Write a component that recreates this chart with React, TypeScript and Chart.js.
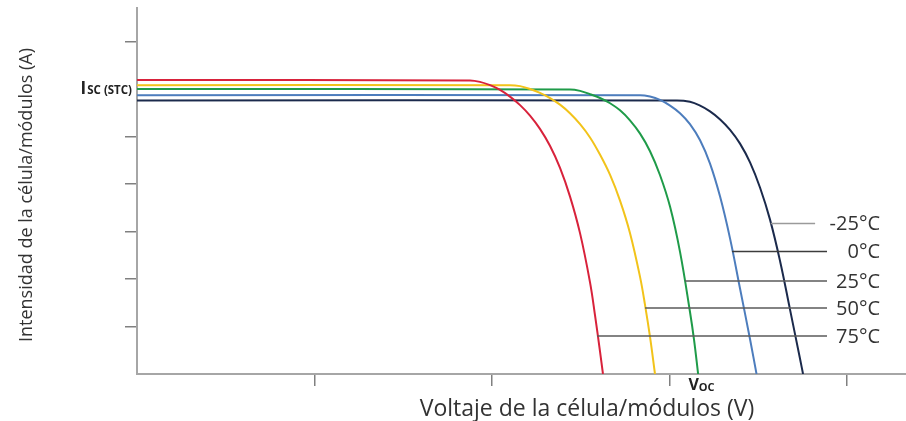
import React, { useEffect, useRef } from "react";
import { Chart, registerables } from "chart.js";

Chart.register(...registerables);

// ---- Data (voltage and current in arbitrary units) ----
const RED_V = [0, 18.76, 19.32, 19.89, 20.45, 21.01, 21.58, 22.14, 22.7, 23.27, 23.83, 24.39, 24.96, 25.52, 25.8, 26.08, 26.25];
const RED_I = [6.19, 6.18, 6.15, 6.08, 5.98, 5.84, 5.66, 5.44, 5.16, 4.8, 4.34, 3.74, 2.96, 1.93, 1.24, 0.48, 0];

const YELLOW_V = [0, 21.01, 21.58, 22.14, 22.7, 23.27, 23.83, 24.39, 24.96, 25.52, 26.08, 26.65, 27.21, 27.77, 28.34, 28.62, 28.9, 29.18];
const YELLOW_I = [6.08, 6.08, 6.06, 6.0, 5.92, 5.81, 5.67, 5.49, 5.26, 4.98, 4.62, 4.19, 3.65, 2.97, 2.04, 1.45, 0.78, 0];

const GREEN_V = [0, 24.39, 24.96, 25.52, 26.08, 26.65, 27.21, 27.77, 28.34, 28.9, 29.46, 30.03, 30.59, 31.15, 31.38, 31.61];
const GREEN_I = [6.0, 5.99, 5.96, 5.89, 5.81, 5.7, 5.55, 5.34, 5.06, 4.69, 4.19, 3.52, 2.57, 1.31, 0.72, 0];

const BLUE_V = [0, 28.34, 28.9, 29.46, 30.03, 30.59, 31.15, 31.72, 32.28, 32.85, 33.41, 33.97, 34.54, 34.9];
const BLUE_I = [5.87, 5.87, 5.84, 5.77, 5.65, 5.49, 5.26, 4.92, 4.43, 3.73, 2.85, 1.8, 0.72, 0];

const NAVY_V = [0, 30.42, 31.15, 31.72, 32.28, 32.85, 33.41, 33.97, 34.54, 35.1, 35.66, 36.23, 36.79, 37.35, 37.52];
const NAVY_I = [5.76, 5.76, 5.73, 5.65, 5.53, 5.36, 5.14, 4.85, 4.45, 3.92, 3.25, 2.37, 1.35, 0.32, 0];

const TEMP_LABELS = ["-25°C", "0°C", "25°C", "50°C", "75°C"];
const LEADER_I = [3.17, 2.58, 1.96, 1.39, 0.8];
const LEADER_START_V = [35.7, 33.52, 30.87, 28.62, 25.92];
const LEADER_END_V = [38.2, 38.87, 38.87, 38.87, 38.87];
const LABEL_RIGHT_V = 41.86;

const SERIES_COLORS = ["#d8223b", "#f2c31a", "#1f9b49", "#4d7dbd", "#1b2a4c"];
const LEADER_COLORS = ["#9a9a9a", "#3c3c3c", "#5a5a5a", "#5a5a5a", "#5a5a5a"];

const X_MIN = 0;
const X_MAX = 43.32;
const X_STEP = 10;
const Y_MIN = 0;
const Y_MAX = 7.705;
const Y_STEP = 1;
const ISC_VALUE = 6;
const VOC_V = 31.8;

const X_TITLE = "Voltaje de la célula/módulos (V)";
const Y_TITLE = "Intensidad de la célula/módulos (A)";

const toPoints = (xs: number[], ys: number[]) => xs.map((x, i) => ({ x, y: ys[i] }));

const FONT = "'Open Sans', 'Noto Sans', sans-serif";

const labelsPlugin = {
  id: "labelsPlugin",
  afterDraw(chart: any) {
    const { ctx, chartArea } = chart;
    const xs = chart.scales.x;
    const ys = chart.scales.y;
    ctx.save();
    ctx.fillStyle = "#333";

    // Temperature labels
    ctx.font = `20px ${FONT}`;
    ctx.textAlign = "right";
    ctx.textBaseline = "middle";
    TEMP_LABELS.forEach((t, i) => {
      ctx.fillText(t, xs.getPixelForValue(LABEL_RIGHT_V), ys.getPixelForValue(LEADER_I[i]) + 1);
    });

    // Isc (STC) label
    const iy = ys.getPixelForValue(ISC_VALUE) + 5;
    const right = chartArea.left - 5;
    ctx.textBaseline = "alphabetic";
    ctx.fillStyle = "#222";
    ctx.font = `bold 11.5px ${FONT}`;
    const sub = "SC (STC)";
    const subW = ctx.measureText(sub).width;
    ctx.textAlign = "right";
    ctx.fillText(sub, right, iy);
    ctx.font = `bold 17px ${FONT}`;
    ctx.fillText("I", right - subW - 1, iy);

    // Voc label
    const vx = xs.getPixelForValue(VOC_V);
    const vy = chartArea.bottom + 16;
    ctx.textAlign = "left";
    ctx.font = `bold 16px ${FONT}`;
    const vW = ctx.measureText("V").width;
    ctx.font = `bold 11px ${FONT}`;
    const ocW = ctx.measureText("OC").width;
    const startX = vx - (vW + ocW) / 2;
    ctx.font = `bold 16px ${FONT}`;
    ctx.fillText("V", startX, vy);
    ctx.font = `bold 11px ${FONT}`;
    ctx.fillText("OC", startX + vW, vy + 1);

    // Axis titles
    ctx.fillStyle = "#333";
    ctx.textAlign = "center";
    ctx.textBaseline = "middle";
    ctx.font = `23px ${FONT}`;
    ctx.fillText(X_TITLE, 587, 409);

    ctx.font = `18px ${FONT}`;
    ctx.save();
    ctx.translate(27, 195);
    ctx.rotate(-Math.PI / 2);
    ctx.fillText(Y_TITLE, 0, 0);
    ctx.restore();

    ctx.restore();
  },
};

export default function App() {
  const ref = useRef<HTMLCanvasElement | null>(null);

  useEffect(() => {
    if (!ref.current) return;
    const curves = [
      toPoints(RED_V, RED_I),
      toPoints(YELLOW_V, YELLOW_I),
      toPoints(GREEN_V, GREEN_I),
      toPoints(BLUE_V, BLUE_I),
      toPoints(NAVY_V, NAVY_I),
    ];
    const curveSets = curves.map((data, i) => ({
      label: TEMP_LABELS[4 - i],
      data,
      borderColor: SERIES_COLORS[i],
      borderWidth: 2,
      pointRadius: 0,
      fill: false,
      tension: 0.4,
      order: 2,
    }));
    const leaderSets = TEMP_LABELS.map((t, i) => ({
      label: "leader " + t,
      data: [
        { x: LEADER_START_V[i], y: LEADER_I[i] },
        { x: LEADER_END_V[i], y: LEADER_I[i] },
      ],
      borderColor: LEADER_COLORS[i],
      borderWidth: 1.5,
      pointRadius: 0,
      fill: false,
      tension: 0,
      order: 1,
    }));

    const tickColor = (ctx: any) =>
      ctx.tick && (ctx.tick.value === 0 || ctx.tick.value === ISC_VALUE) ? "rgba(0,0,0,0)" : "#808080";
    const xTickColor = (ctx: any) =>
      ctx.tick && ctx.tick.value === 0 ? "rgba(0,0,0,0)" : "#808080";

    const chart = new Chart(ref.current, {
      type: "line",
      data: { datasets: [...curveSets, ...leaderSets] as any },
      options: {
        animation: false,
        responsive: false,
        maintainAspectRatio: false,
        layout: { padding: { left: 125, top: 8, right: 0, bottom: 35 } },
        plugins: { legend: { display: false }, tooltip: { enabled: false } },
        scales: {
          x: {
            type: "linear",
            min: X_MIN,
            max: X_MAX,
            ticks: { display: false, stepSize: X_STEP, includeBounds: false },
            grid: { drawOnChartArea: false, drawTicks: true, tickLength: 12, color: xTickColor, lineWidth: 1.5 },
            border: { color: "#a6a6a6", width: 2 },
          },
          y: {
            type: "linear",
            min: Y_MIN,
            max: Y_MAX,
            ticks: { display: false, stepSize: Y_STEP, includeBounds: false },
            grid: { drawOnChartArea: false, drawTicks: true, tickLength: 12, color: tickColor, lineWidth: 1.5 },
            border: { color: "#a6a6a6", width: 2 },
          },
        },
      },
      plugins: [labelsPlugin],
    });
    return () => chart.destroy();
  }, []);

  return (
    <div style={{ position: "fixed", left: 0, top: 0, width: 906, height: 421, background: "#fff" }}>
      <canvas ref={ref} width={906} height={421} style={{ display: "block" }} />
    </div>
  );
}
